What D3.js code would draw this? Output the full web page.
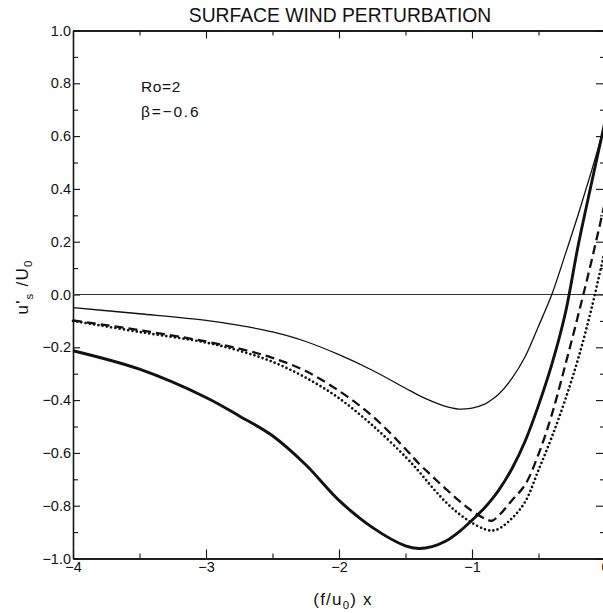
<!DOCTYPE html>
<html>
<head>
<meta charset="utf-8">
<title>surface wind perturbation</title>
<script src="https://d3js.org/d3.v7.min.js"></script>
<style>
  body { margin: 0; background: #fff; }
  svg text { font-family: "Liberation Sans", Arial, Helvetica, sans-serif; fill: #111; }
</style>
</head>
<body>
<svg id="chart" width="603" height="613"></svg>
<script>
// x positions, (f/u0) x
const xs = [-4, -3.5, -3, -2.75, -2.5, -2.25, -2, -1.75, -1.5, -1.4, -1.3, -1.2, -1.1, -1, -0.9, -0.85, -0.8, -0.7, -0.6, -0.5, -0.4, -0.3, -0.2, -0.1, 0];

// u's / U0 for each curve
const thinSolid = [-0.05, -0.073, -0.098, -0.117, -0.142, -0.178, -0.228, -0.287, -0.355, -0.382, -0.405, -0.424, -0.434, -0.43, -0.414, -0.398, -0.378, -0.318, -0.235, -0.12, 0.0, 0.15, 0.305, 0.47, 0.645];
const thickSolid = [-0.213, -0.283, -0.39, -0.46, -0.535, -0.645, -0.78, -0.882, -0.952, -0.962, -0.955, -0.935, -0.9, -0.855, -0.805, -0.775, -0.742, -0.66, -0.555, -0.42, -0.265, -0.075, 0.19, 0.425, 0.655];
const dashed = [-0.098, -0.135, -0.178, -0.205, -0.24, -0.29, -0.365, -0.46, -0.585, -0.64, -0.688, -0.735, -0.78, -0.82, -0.85, -0.857, -0.838, -0.78, -0.72, -0.605, -0.455, -0.27, -0.075, 0.13, 0.35];
const dotted = [-0.10, -0.142, -0.182, -0.213, -0.255, -0.315, -0.393, -0.495, -0.615, -0.67, -0.73, -0.785, -0.83, -0.865, -0.89, -0.894, -0.888, -0.848, -0.785, -0.665, -0.54, -0.40, -0.24, -0.05, 0.17];

const xTicks = [-4, -3, -2, -1, 0];
const xMinor = [-3.5, -2.5, -1.5, -0.5];
const yTicks = [-1, -0.8, -0.6, -0.4, -0.2, 0, 0.2, 0.4, 0.6, 0.8, 1];
const yMinor = [-0.9, -0.7, -0.5, -0.3, -0.1, 0.1, 0.3, 0.5, 0.7, 0.9];

const svg = d3.select("#chart");

const x = d3.scaleLinear().domain([-4, 0]).range([73, 605]);
const y = d3.scaleLinear().domain([-1, 1]).range([558.5, 30.5]);

const fmtX = d => d === 0 ? "0" : "\u2212" + Math.abs(d);
const fmtY = d => (d < 0 ? "\u2212" : "") + Math.abs(d).toFixed(1);

function styleAxis(g) {
    g.selectAll("path.domain").attr("stroke", "#111").attr("stroke-width", 1.3);
    g.selectAll(".tick line").attr("stroke", "#111").attr("stroke-width", 1.1);
    g.selectAll(".tick text").attr("font-size", 14.5).attr("fill", "#111")
        .attr("font-family", "Liberation Sans, Arial, sans-serif");
}

// bottom
svg.append("g").attr("transform", `translate(0,${y(-1)})`)
    .call(d3.axisBottom(x).tickValues(xTicks).tickFormat(fmtX).tickSize(-9).tickSizeOuter(0).tickPadding(3))
    .call(styleAxis);
svg.append("g").attr("transform", `translate(0,${y(-1)})`)
    .call(d3.axisBottom(x).tickValues(xMinor).tickFormat("").tickSize(-5).tickSizeOuter(0))
    .call(styleAxis);

// top
svg.append("g").attr("transform", `translate(0,${y(1)})`)
    .call(d3.axisTop(x).tickValues(xTicks).tickFormat("").tickSize(-8).tickSizeOuter(0))
    .call(styleAxis);
svg.append("g").attr("transform", `translate(0,${y(1)})`)
    .call(d3.axisTop(x).tickValues(xMinor).tickFormat("").tickSize(-5).tickSizeOuter(0))
    .call(styleAxis);

// left
svg.append("g").attr("transform", `translate(${x(-4)},0)`)
    .call(d3.axisLeft(y).tickValues(yTicks).tickFormat(fmtY).tickSize(-7).tickSizeOuter(0).tickPadding(2))
    .call(styleAxis);
svg.append("g").attr("transform", `translate(${x(-4)},0)`)
    .call(d3.axisLeft(y).tickValues(yMinor).tickFormat("").tickSize(-5).tickSizeOuter(0))
    .call(styleAxis);

// right
svg.append("g").attr("transform", `translate(${x(0)},0)`)
    .call(d3.axisRight(y).tickValues(yTicks).tickFormat("").tickSize(-9).tickSizeOuter(0))
    .call(styleAxis);
svg.append("g").attr("transform", `translate(${x(0)},0)`)
    .call(d3.axisRight(y).tickValues(yMinor).tickFormat("").tickSize(-5).tickSizeOuter(0))
    .call(styleAxis);

// zero line
svg.append("line")
    .attr("x1", x(-4)).attr("x2", x(0))
    .attr("y1", y(0)).attr("y2", y(0))
    .attr("stroke", "#333").attr("stroke-width", 1.2);

const line = d3.line()
    .x((d, i) => x(xs[i]))
    .y(d => y(d))
    .curve(d3.curveCatmullRom.alpha(0.5));

const series = [
    { values: thinSolid, width: 1.3, dash: null, cap: "butt" },
    { values: thickSolid, width: 2.9, dash: null, cap: "butt" },
    { values: dashed, width: 2.3, dash: "9,5", cap: "butt" },
    { values: dotted, width: 2.7, dash: "0,4.3", cap: "round" }
];

svg.selectAll("path.curve")
    .data(series)
    .enter()
    .append("path")
    .attr("class", "curve")
    .attr("d", d => line(d.values))
    .attr("fill", "none")
    .attr("stroke", "#111")
    .attr("stroke-width", d => d.width)
    .attr("stroke-dasharray", d => d.dash)
    .attr("stroke-linecap", d => d.cap);

// title
svg.append("text")
    .attr("x", 340).attr("y", 22)
    .attr("text-anchor", "middle")
    .attr("font-size", 19.3)
    .text("SURFACE WIND PERTURBATION");

// parameters
svg.append("text").attr("x", 141).attr("y", 92).attr("font-size", 15.5)
    .attr("letter-spacing", 0.6).text("Ro=2");
svg.append("text").attr("x", 141).attr("y", 117).attr("font-size", 15.5)
    .attr("letter-spacing", 1.8).text("\u03b2=\u22120.6");

// x label
const xl = svg.append("text")
    .attr("x", 343).attr("y", 605)
    .attr("text-anchor", "middle")
    .attr("font-size", 17)
    .attr("letter-spacing", 1.2);
xl.append("tspan").text("(f/u");
xl.append("tspan").attr("font-size", 11.5).attr("dy", 4).text("0");
xl.append("tspan").attr("dy", -4).text(") x");

// y label
const yl = svg.append("text")
    .attr("transform", "translate(28,287) rotate(-90)")
    .attr("text-anchor", "middle")
    .attr("font-size", 17)
    .attr("letter-spacing", 1.2);
yl.append("tspan").text("u'");
yl.append("tspan").attr("font-size", 11.5).attr("dy", 5).text("s");
yl.append("tspan").attr("dy", -5).text(" /U");
yl.append("tspan").attr("font-size", 11.5).attr("dy", 4).text("0");
</script>
</body>
</html>
